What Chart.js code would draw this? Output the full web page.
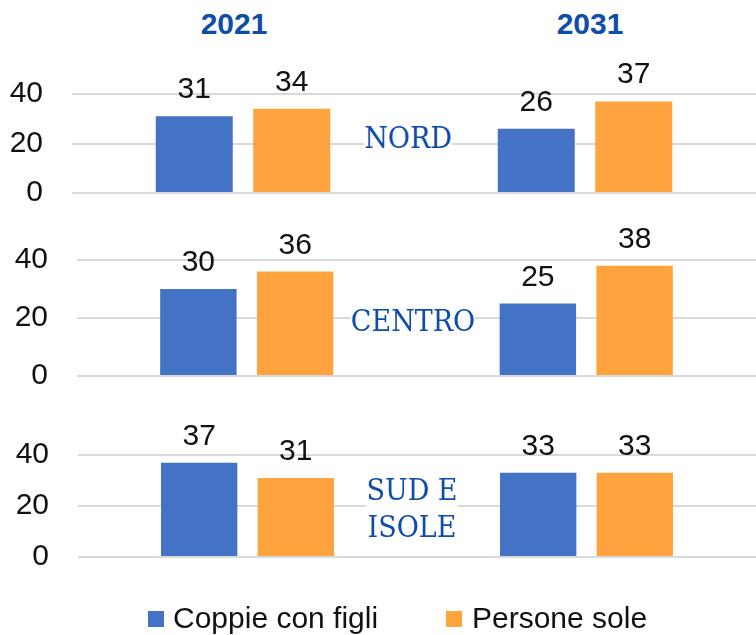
<!DOCTYPE html>
<html>
<head>
<meta charset="utf-8">
<script src="https://cdn.jsdelivr.net/npm/chart.js@4"></script>
<style>
  body { margin: 0; background: #fff; }
  #wrap { position: relative; width: 756px; height: 635px; overflow: hidden; font-family: 'Liberation Sans', Arial, sans-serif; }
  canvas { position: absolute; left: 0; }
  .year { position: absolute; top: 7px; width: 120px; text-align: center; font-weight: bold; font-size: 30px; color: #0E4DAA; }
  .region { position: absolute; background: #fff; color: #0E4DAA; font-family: 'DejaVu Serif', serif; font-stretch: condensed; font-size: 30px; line-height: 37px; text-align: center; transform: translateX(-50%); z-index: 5; }
  .leg { position: absolute; top: 601px; font-size: 30px; color: #111; white-space: nowrap; }
  .box { position: absolute; top: 611px; width: 16px; height: 16px; }
</style>
</head>
<body>
<div id="wrap">
  <div class="year" style="left:174px">2021</div>
  <div class="year" style="left:530px">2031</div>
  <canvas id="nord" width="756" height="193" style="top:47px"></canvas>
  <canvas id="centro" width="756" height="210" style="top:213px"></canvas>
  <canvas id="sud" width="756" height="196" style="top:408px"></canvas>
  <div class="region" style="left:408px; top:119px">NORD</div>
  <div class="region" style="left:413px; top:302px">CENTRO</div>
  <div class="region" style="left:412px; top:471px">SUD E<br>ISOLE</div>
  <div class="box" style="left:148px; background:#4472C4"></div>
  <div class="leg" style="left:173px">Coppie con figli</div>
  <div class="box" style="left:446px; background:#FFA33F"></div>
  <div class="leg" style="left:472px">Persone sole</div>
</div>
<script>
const years = ['2021', '2031'];
const seriesNames = ['Coppie con figli', 'Persone sole'];
const yTicks = [0, 20, 40];

const coppieNord = [31, 26];
const personeNord = [34, 37];
const coppieCentro = [30, 25];
const personeCentro = [36, 38];
const coppieSud = [37, 33];
const personeSud = [31, 33];

Chart.defaults.font.family = "'Liberation Sans', Arial, sans-serif";
Chart.defaults.font.size = 30;
Chart.defaults.color = '#111';

// numbers above each bar
const valueLabels = {
    id: 'valueLabels',
    afterDatasetsDraw(chart) {
        const ctx = chart.ctx;
        ctx.save();
        ctx.font = "30px 'Liberation Sans', Arial, sans-serif";
        ctx.fillStyle = '#111';
        ctx.textAlign = 'center';
        ctx.textBaseline = 'alphabetic';
        chart.data.datasets.forEach((ds, i) => {
            chart.getDatasetMeta(i).data.forEach((bar, j) => {
                ctx.fillText(ds.data[j], bar.x, bar.y - 18);
            });
        });
        ctx.restore();
    }
};

// tick padding (29) also pads the plot top and bottom, so each canvas starts 46px above the 40 line
const makePanel = (id, coppie, persone, left) => {
    const ctx = document.getElementById(id).getContext('2d');
    return new Chart(ctx, {
        type: 'bar',
        data: {
            labels: years,
            datasets: [
                { label: seriesNames[0], data: coppie, backgroundColor: '#4472C4' },
                { label: seriesNames[1], data: persone, backgroundColor: '#FFA33F' }
            ]
        },
        options: {
            responsive: false,
            animation: false,
            devicePixelRatio: 1,
            categoryPercentage: 0.57,
            barPercentage: 0.79,
            layout: { padding: { top: 0, bottom: 0, left: 8, right: 0 } },
            plugins: { legend: { display: false }, tooltip: { enabled: false } },
            scales: {
                x: { display: false },
                y: {
                    min: yTicks[0],
                    max: yTicks[yTicks.length - 1],
                    afterBuildTicks: s => { s.ticks = yTicks.map(v => ({ value: v })); },
                    afterFit: s => { s.width = left - 8; },
                    border: { display: false },
                    grid: { color: '#D9D9D9', lineWidth: 2, drawTicks: false },
                    ticks: { padding: 29, color: '#111' }
                }
            }
        },
        plugins: [valueLabels]
    });
};

makePanel('nord', coppieNord, personeNord, 72);
makePanel('centro', coppieCentro, personeCentro, 77);
makePanel('sud', coppieSud, personeSud, 78);
</script>
</body>
</html>
